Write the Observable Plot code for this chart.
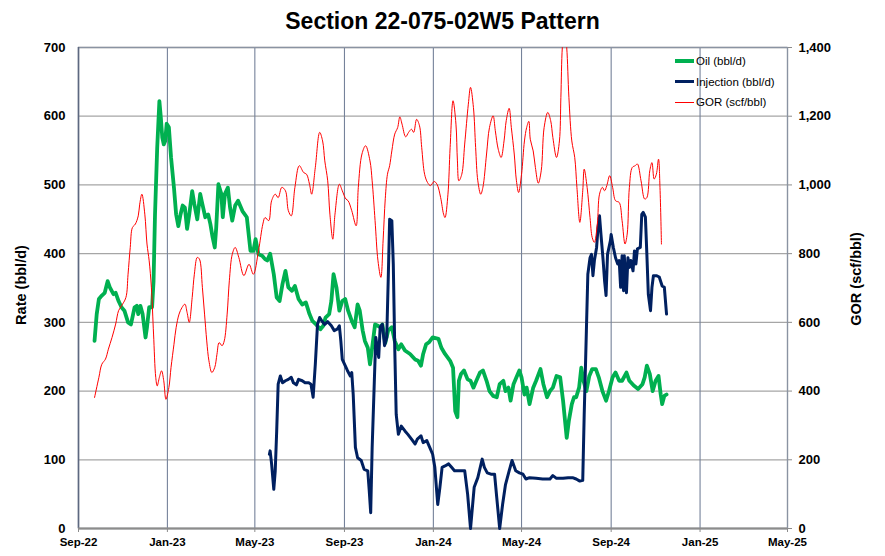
<!DOCTYPE html>
<html><head><meta charset="utf-8">
<script src="https://cdn.jsdelivr.net/npm/d3@7"></script>
<script src="https://cdn.jsdelivr.net/npm/@observablehq/plot@0.6"></script>
<style>
body{margin:0;background:#fff;font-family:"Liberation Sans",Arial,sans-serif;color:#000;}
#wrap{position:relative;width:885px;height:556px;overflow:hidden;}
#title{height:40px;box-sizing:border-box;padding-top:10px;text-align:center;font-weight:bold;font-size:23px;line-height:23px;}
#legend{position:absolute;left:675px;top:0;font-size:11.5px;}
.row{position:absolute;left:0;height:14px;white-space:nowrap;}
.sw{position:absolute;left:0;width:19px;}
.lb{position:absolute;left:21px;top:0;line-height:14px;}
svg{display:block;}
</style></head>
<body>
<div id="wrap">
  <div id="title">Section 22-075-02W5 Pattern</div>
  <div id="chart"></div>
  <div id="legend"></div>
</div>
<script>
// ---- tick labels ----
const xTickDates = ["2022-09-01","2023-01-01","2023-05-01","2023-09-01","2024-01-01","2024-05-01","2024-09-01","2025-01-01","2025-05-01"];
const rateTicks = [0,100,200,300,400,500,600,700];
const gorTicks = [0,200,400,600,800,1000,1200,1400];

// ---- series: Oil (bbl/d) ----
const oil = [["2022-09-23",273],["2022-09-26",312],["2022-09-29",334],["2022-10-03",339],["2022-10-07",343],["2022-10-11",360],["2022-10-14",351],["2022-10-19",341],["2022-10-22",343],["2022-10-26",331],["2022-10-30",322],["2022-11-03",317],["2022-11-08",300],["2022-11-12",297],["2022-11-17",322],["2022-11-20",324],["2022-11-22",312],["2022-11-25",324],["2022-11-28",312],["2022-12-02",278],["2022-12-04",293],["2022-12-07",322],["2022-12-11",322],["2022-12-13",360],["2022-12-15",457],["2022-12-18",554],["2022-12-21",622],["2022-12-23",598],["2022-12-25",569],["2022-12-27",559],["2022-12-29",564],["2022-12-31",589],["2023-01-03",584],["2023-01-06",540],["2023-01-10",496],["2023-01-13",457],["2023-01-16",440],["2023-01-19",457],["2023-01-22",470],["2023-01-25",467],["2023-01-28",436],["2023-01-31",457],["2023-02-04",491],["2023-02-07",472],["2023-02-11",450],["2023-02-15",487],["2023-02-18",472],["2023-02-22",453],["2023-02-26",457],["2023-03-01",443],["2023-03-04",424],["2023-03-07",409],["2023-03-09",438],["2023-03-12",501],["2023-03-16",487],["2023-03-18",453],["2023-03-21",487],["2023-03-25",496],["2023-03-28",467],["2023-03-31",448],["2023-04-04",470],["2023-04-08",477],["2023-04-14",462],["2023-04-20",453],["2023-04-25",404],["2023-04-29",404],["2023-05-02",421],["2023-05-06",399],["2023-05-11",397],["2023-05-15",392],["2023-05-18",390],["2023-05-22",400],["2023-05-27",370],["2023-05-31",336],["2023-06-04",331],["2023-06-08",356],["2023-06-12",375],["2023-06-16",351],["2023-06-21",346],["2023-06-25",353],["2023-06-30",334],["2023-07-05",326],["2023-07-10",329],["2023-07-15",312],["2023-07-19",302],["2023-07-24",297],["2023-07-30",290],["2023-08-03",295],["2023-08-06",307],["2023-08-11",312],["2023-08-14",331],["2023-08-17",370],["2023-08-21",351],["2023-08-25",317],["2023-08-29",331],["2023-09-02",334],["2023-09-06",317],["2023-09-11",302],["2023-09-15",293],["2023-09-19",326],["2023-09-22",317],["2023-09-26",288],["2023-09-29",273],["2023-10-03",263],["2023-10-06",239],["2023-10-09",263],["2023-10-13",297],["2023-10-17",295],["2023-10-20",293],["2023-10-23",297],["2023-10-27",270],["2023-10-31",288],["2023-11-05",293],["2023-11-09",273],["2023-11-14",261],["2023-11-18",268],["2023-11-23",259],["2023-11-30",254],["2023-12-07",246],["2023-12-11",244],["2023-12-15",237],["2023-12-18",254],["2023-12-22",268],["2023-12-26",271],["2023-12-31",278],["2024-01-08",276],["2024-01-12",263],["2024-01-17",254],["2024-01-24",244],["2024-01-28",234],["2024-01-31",171],["2024-02-03",162],["2024-02-05",215],["2024-02-08",225],["2024-02-12",230],["2024-02-17",217],["2024-02-21",215],["2024-02-25",205],["2024-02-29",215],["2024-03-05",227],["2024-03-09",230],["2024-03-14",215],["2024-03-18",200],["2024-03-23",193],["2024-03-28",191],["2024-04-01",210],["2024-04-06",215],["2024-04-09",200],["2024-04-13",205],["2024-04-16",186],["2024-04-20",210],["2024-04-24",220],["2024-04-28",230],["2024-05-01",220],["2024-05-05",195],["2024-05-08",205],["2024-05-12",181],["2024-05-17",205],["2024-05-21",215],["2024-05-27",232],["2024-05-31",210],["2024-06-05",191],["2024-06-09",200],["2024-06-13",205],["2024-06-18",222],["2024-06-23",220],["2024-06-27",186],["2024-07-02",132],["2024-07-05",157],["2024-07-09",181],["2024-07-12",191],["2024-07-15",191],["2024-07-19",205],["2024-07-22",234],["2024-07-25",215],["2024-07-29",200],["2024-08-02",222],["2024-08-06",232],["2024-08-11",232],["2024-08-15",220],["2024-08-20",200],["2024-08-25",186],["2024-08-29",200],["2024-09-03",220],["2024-09-07",227],["2024-09-12",215],["2024-09-16",215],["2024-09-22",227],["2024-09-26",215],["2024-10-02",208],["2024-10-08",203],["2024-10-14",210],["2024-10-17",220],["2024-10-20",237],["2024-10-24",225],["2024-10-28",200],["2024-11-01",215],["2024-11-05",222],["2024-11-08",195],["2024-11-10",181],["2024-11-13",193],["2024-11-16",195]];

// ---- series: Injection (bbl/d) ----
const injection = [["2023-05-21",108],["2023-05-22",113],["2023-05-24",94],["2023-05-27",57],["2023-05-29",84],["2023-05-31",142],["2023-06-02",210],["2023-06-05",222],["2023-06-08",212],["2023-06-12",215],["2023-06-16",217],["2023-06-20",220],["2023-06-23",212],["2023-06-27",209],["2023-06-30",217],["2023-07-05",215],["2023-07-09",212],["2023-07-14",212],["2023-07-17",210],["2023-07-20",191],["2023-07-23",239],["2023-07-26",297],["2023-07-29",307],["2023-08-01",302],["2023-08-05",297],["2023-08-09",301],["2023-08-14",295],["2023-08-18",288],["2023-08-22",290],["2023-08-25",295],["2023-08-27",273],["2023-08-29",246],["2023-09-02",237],["2023-09-05",230],["2023-09-09",222],["2023-09-11",227],["2023-09-13",195],["2023-09-16",118],["2023-09-19",103],["2023-09-24",99],["2023-09-28",86],["2023-10-03",84],["2023-10-05",55],["2023-10-07",23],["2023-10-09",118],["2023-10-12",215],["2023-10-14",278],["2023-10-18",249],["2023-10-20",293],["2023-10-23",297],["2023-10-26",266],["2023-10-29",278],["2023-10-31",360],["2023-11-02",450],["2023-11-05",448],["2023-11-07",385],["2023-11-09",263],["2023-11-11",166],["2023-11-14",137],["2023-11-18",149],["2023-11-23",142],["2023-11-27",137],["2023-12-02",130],["2023-12-07",123],["2023-12-10",130],["2023-12-15",135],["2023-12-18",125],["2023-12-23",128],["2023-12-27",118],["2023-12-31",108],["2024-01-03",89],["2024-01-07",35],["2024-01-10",60],["2024-01-13",89],["2024-01-17",91],["2024-01-22",94],["2024-01-26",89],["2024-01-30",84],["2024-02-06",84],["2024-02-13",84],["2024-02-17",50],["2024-02-21",0],["2024-02-26",60],["2024-03-02",74],["2024-03-08",101],["2024-03-11",89],["2024-03-15",81],["2024-03-20",79],["2024-03-25",79],["2024-03-28",45],["2024-04-01",0],["2024-04-05",35],["2024-04-09",64],["2024-04-14",84],["2024-04-18",99],["2024-04-23",84],["2024-04-28",81],["2024-05-03",79],["2024-05-07",72],["2024-05-12",74],["2024-05-21",73],["2024-05-30",72],["2024-06-09",72],["2024-06-13",77],["2024-06-18",73],["2024-06-27",73],["2024-07-04",74],["2024-07-10",74],["2024-07-15",72],["2024-07-20",69],["2024-07-24",70],["2024-07-26",166],["2024-07-29",288],["2024-07-31",370],["2024-08-03",394],["2024-08-05",399],["2024-08-07",368],["2024-08-09",390],["2024-08-12",409],["2024-08-14",438],["2024-08-16",455],["2024-08-18",428],["2024-08-21",390],["2024-08-23",360],["2024-08-25",339],["2024-08-27",399],["2024-08-31",419],["2024-09-01",428],["2024-09-04",409],["2024-09-07",394],["2024-09-10",385],["2024-09-12",390],["2024-09-14",351],["2024-09-16",397],["2024-09-18",346],["2024-09-19",397],["2024-09-22",343],["2024-09-24",394],["2024-09-26",380],["2024-09-28",390],["2024-10-01",375],["2024-10-03",404],["2024-10-05",385],["2024-10-07",407],["2024-10-11",409],["2024-10-13",457],["2024-10-15",460],["2024-10-18",453],["2024-10-20",399],["2024-10-22",341],["2024-10-25",317],["2024-10-27",351],["2024-10-29",368],["2024-11-02",368],["2024-11-06",366],["2024-11-10",353],["2024-11-13",351],["2024-11-16",312]];

// ---- series: GOR (scf/bbl) ----
const gor = [["2022-09-23",381],["2022-09-29",440],["2022-10-03",478],["2022-10-08",493],["2022-10-12",522],["2022-10-17",556],["2022-10-22",595],["2022-10-26",634],["2022-10-30",648],["2022-11-05",672],["2022-11-08",740],["2022-11-11",818],["2022-11-14",876],["2022-11-18",886],["2022-11-22",910],["2022-11-24",944],["2022-11-27",973],["2022-12-01",915],["2022-12-04",828],["2022-12-07",779],["2022-12-10",702],["2022-12-13",566],["2022-12-16",440],["2022-12-18",415],["2022-12-21",440],["2022-12-24",459],["2022-12-27",430],["2022-12-30",376],["2023-01-03",410],["2023-01-06",469],["2023-01-10",536],["2023-01-13",585],["2023-01-17",624],["2023-01-21",643],["2023-01-25",653],["2023-01-28",629],["2023-01-31",600],["2023-02-04",672],["2023-02-07",740],["2023-02-11",789],["2023-02-14",784],["2023-02-18",702],["2023-02-21",624],["2023-02-24",546],["2023-02-27",488],["2023-03-03",454],["2023-03-07",469],["2023-03-10",507],["2023-03-13",541],["2023-03-17",532],["2023-03-20",546],["2023-03-24",624],["2023-03-27",721],["2023-03-31",798],["2023-04-04",818],["2023-04-09",789],["2023-04-16",736],["2023-04-23",769],["2023-04-29",740],["2023-05-06",808],["2023-05-12",886],["2023-05-15",905],["2023-05-20",896],["2023-05-24",954],["2023-05-29",973],["2023-06-02",963],["2023-06-07",993],["2023-06-12",983],["2023-06-16",925],["2023-06-20",910],["2023-06-25",993],["2023-07-01",1056],["2023-07-07",1036],["2023-07-11",1031],["2023-07-15",1002],["2023-07-18",973],["2023-07-23",1051],["2023-07-29",1153],["2023-08-02",1128],["2023-08-05",1070],["2023-08-09",1012],["2023-08-12",915],["2023-08-16",842],["2023-08-19",915],["2023-08-25",1002],["2023-08-29",983],["2023-09-03",959],["2023-09-06",954],["2023-09-11",925],["2023-09-17",881],["2023-09-20",993],["2023-09-25",1090],["2023-09-30",1114],["2023-10-06",1070],["2023-10-09",1012],["2023-10-13",896],["2023-10-17",779],["2023-10-21",731],["2023-10-24",837],["2023-10-27",960],["2023-10-30",1031],["2023-11-02",1056],["2023-11-05",1099],["2023-11-09",1148],["2023-11-13",1167],["2023-11-16",1198],["2023-11-19",1177],["2023-11-24",1140],["2023-11-28",1153],["2023-12-02",1162],["2023-12-05",1153],["2023-12-09",1191],["2023-12-13",1172],["2023-12-16",1109],["2023-12-20",1031],["2023-12-24",1007],["2023-12-28",998],["2024-01-02",1010],["2024-01-06",1002],["2024-01-11",963],["2024-01-15",915],["2024-01-17",905],["2024-01-21",973],["2024-01-24",1109],["2024-01-28",1245],["2024-02-01",1177],["2024-02-03",1070],["2024-02-05",1012],["2024-02-09",1031],["2024-02-13",1119],["2024-02-18",1235],["2024-02-21",1284],["2024-02-25",1225],["2024-02-28",1109],["2024-03-02",1012],["2024-03-06",973],["2024-03-09",993],["2024-03-14",1090],["2024-03-18",1167],["2024-03-23",1201],["2024-03-26",1158],["2024-03-30",1104],["2024-04-03",1080],["2024-04-07",1128],["2024-04-10",1187],["2024-04-14",1223],["2024-04-17",1167],["2024-04-21",1090],["2024-04-24",1012],["2024-04-27",978],["2024-05-01",1031],["2024-05-05",1128],["2024-05-08",1167],["2024-05-11",1185],["2024-05-13",1133],["2024-05-17",1099],["2024-05-20",1051],["2024-05-24",1005],["2024-05-28",1041],["2024-06-01",1167],["2024-06-06",1211],["2024-06-10",1187],["2024-06-13",1138],["2024-06-18",1080],["2024-06-22",1128],["2024-06-24",1255],["2024-06-26",1400],["2024-06-29",1460],["2024-07-02",1400],["2024-07-05",1255],["2024-07-09",1128],["2024-07-13",1080],["2024-07-16",993],["2024-07-20",891],["2024-07-24",983],["2024-07-26",1046],["2024-07-30",993],["2024-08-03",905],["2024-08-06",847],["2024-08-09",833],["2024-08-13",886],["2024-08-16",973],["2024-08-20",993],["2024-08-23",983],["2024-08-26",998],["2024-08-30",1027],["2024-09-03",993],["2024-09-07",954],["2024-09-12",949],["2024-09-16",896],["2024-09-20",828],["2024-09-23",857],["2024-09-26",993],["2024-09-30",1051],["2024-10-04",1056],["2024-10-07",1061],["2024-10-12",1012],["2024-10-17",959],["2024-10-20",963],["2024-10-24",1041],["2024-10-27",1065],["2024-10-30",1017],["2024-11-02",1031],["2024-11-05",1075],["2024-11-07",993],["2024-11-09",828]];

const seriesNames = ["Oil (bbl/d)", "Injection (bbl/d)", "GOR (scf/bbl)"];
const seriesColors = ["#00b050", "#002060", "#ff0000"];
const seriesWidths = [3.8, 3, 1];

// ---- build ----
const parse = d3.utcParse("%Y-%m-%d");
const toRows = arr => arr.map(([d, v]) => ({date: parse(d), value: v}));
const xTicks = xTickDates.map(parse);
const ratio = gorTicks[gorTicks.length - 1] / rateTicks[rateTicks.length - 1];

const chart = Plot.plot({
  width: 885,
  height: 516,
  marginTop: 7,
  marginBottom: 28,
  marginLeft: 78,
  marginRight: 98,
  style: {fontFamily: '"Liberation Sans", Arial, sans-serif', color: "#000", background: "transparent", overflow: "visible"},
  x: {type: "utc", domain: [xTicks[0], xTicks[xTicks.length - 1]]},
  y: {domain: [rateTicks[0], rateTicks[rateTicks.length - 1]]},
  marks: [
    Plot.gridY(rateTicks, {stroke: "#a6a6a6", strokeOpacity: 1, strokeWidth: 1.3}),
    Plot.gridX(xTicks, {stroke: "#75829a", strokeOpacity: 1, strokeWidth: 1.1}),
    Plot.frame({stroke: "#8a93a2", strokeWidth: 1.3}),
    Plot.ruleX([xTicks[0]], {stroke: "#5d6880", strokeWidth: 1.5}),
    Plot.ruleY([rateTicks[0]], {stroke: "#8c8c8c", strokeWidth: 2}),
    Plot.axisX(xTicks, {tickFormat: d3.utcFormat("%b-%y"), tickSize: 4, tickPadding: 5, fontSize: 11.5, fontWeight: "bold", stroke: "#8c8c8c", label: null}),
    Plot.axisY(rateTicks, {anchor: "left", tickSize: 0, tickPadding: 13, fontSize: 13, fontWeight: "bold", label: null}),
    Plot.axisY(gorTicks.map(g => g / ratio), {anchor: "right", tickSize: 4, tickPadding: 7, fontSize: 13, fontWeight: "bold", stroke: "#8c8c8c", tickFormat: v => d3.format(",")(Math.round(v * ratio)), label: null}),
    Plot.text(["Rate (bbl/d)"], {text: d => d, frameAnchor: "left", textAnchor: "middle", dx: -57, dy: -3, rotate: -90, fontSize: 14.5, fontWeight: "bold"}),
    Plot.text(["GOR (scf/bbl)"], {text: d => d, frameAnchor: "right", textAnchor: "middle", dx: 69, dy: -9, rotate: -90, fontSize: 14.5, fontWeight: "bold"}),
    Plot.line(toRows(oil), {x: "date", y: "value", stroke: seriesColors[0], strokeWidth: seriesWidths[0]}),
    Plot.line(toRows(injection), {x: "date", y: "value", stroke: seriesColors[1], strokeWidth: seriesWidths[1]}),
    Plot.line(toRows(gor), {x: "date", y: d => d.value / ratio, stroke: seriesColors[2], strokeWidth: seriesWidths[2], clip: true, curve: "catmull-rom"})
  ]
});
document.getElementById("chart").appendChild(chart);

// ---- legend (HTML overlay) ----
const legend = document.getElementById("legend");
const rowCenters = [61, 81.7, 102.3];
seriesNames.forEach((name, i) => {
  const row = document.createElement("div");
  row.className = "row";
  row.style.top = (rowCenters[i] - 7) + "px";
  const sw = document.createElement("div");
  sw.className = "sw";
  sw.style.height = seriesWidths[i] + "px";
  sw.style.top = (7 - seriesWidths[i] / 2) + "px";
  sw.style.background = seriesColors[i];
  const lb = document.createElement("div");
  lb.className = "lb";
  lb.textContent = name;
  row.appendChild(sw);
  row.appendChild(lb);
  legend.appendChild(row);
});
</script>
</body></html>
